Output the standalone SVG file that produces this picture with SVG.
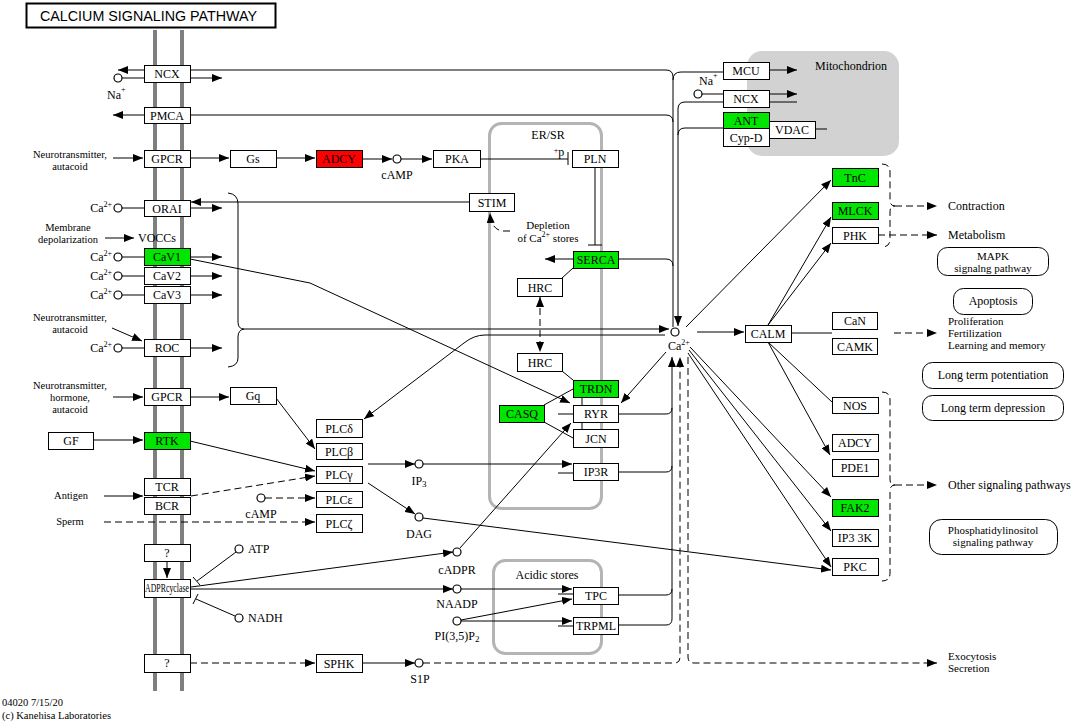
<svg xmlns="http://www.w3.org/2000/svg" width="1072" height="723" viewBox="0 0 1072 723">
<style>
text{font-family:"Liberation Serif","Times New Roman",serif;font-size:12px;fill:#000}
.n rect{fill:#fff;stroke:#000;stroke-width:1}
.n text{text-anchor:middle}
.n.g rect{fill:#00e600}
.n.r rect{fill:#ff0000}
.e{fill:none;stroke:#000;stroke-width:1}
.d{stroke-dasharray:7,4}
.c{fill:#fff;stroke:#000;stroke-width:1.2}
.s{font-size:10.5px}
.k{font-size:11px}
.m{text-anchor:middle}
.p{fill:#fff;stroke:#000;stroke-width:1}
.sup{font-size:8px}
</style>
<defs>
<marker id="a" viewBox="0 0 10 8" refX="10" refY="4" markerWidth="10" markerHeight="8" markerUnits="userSpaceOnUse" orient="auto-start-reverse"><path d="M0,0L10,4L0,8z" fill="#000"/></marker>
</defs>
<rect width="1072" height="723" fill="#fff"/>
<g id="compartments">
<rect x="747" y="51" width="152" height="105" rx="15" fill="#d2d2d2"/>
<text x="851" y="70" class="m">Mitochondrion</text>
<rect x="489.5" y="123.5" width="112" height="385" rx="12" fill="none" stroke="#b4b4b4" stroke-width="3"/>
<text x="548" y="139" class="m">ER/SR</text>
<rect x="493.5" y="560.5" width="108" height="93" rx="12" fill="none" stroke="#b4b4b4" stroke-width="3"/>
<text x="547" y="579" class="m">Acidic stores</text>
<line x1="155" y1="30" x2="155" y2="691" stroke="#7f7f7f" stroke-width="4"/>
<line x1="182" y1="30" x2="182" y2="691" stroke="#7f7f7f" stroke-width="4"/>
</g>
<g id="title"><rect x="26.5" y="3.5" width="249" height="24" fill="#fff" stroke="#000" stroke-width="2"/><text x="40" y="21" style="font-family:'Liberation Sans',Arial,sans-serif;font-size:14px" textLength="217" lengthAdjust="spacingAndGlyphs">CALCIUM SIGNALING PATHWAY</text></g>
<g id="edges">
<path class="e" d="M144,70H118" marker-end="url(#a)"/>
<path class="e" d="M190,70H666Q673,70 673,77V327"/>
<path class="e" d="M673,80Q673,72 681,72H723"/>
<path class="e" d="M122,78H144"/>
<path class="e" d="M190,78H222" marker-end="url(#a)"/>
<path class="e" d="M144,115H113" marker-end="url(#a)"/>
<path class="e" d="M190,115H666Q673,115 673,122"/>
<path class="e" d="M618,259H666Q673,259 673,266"/>
<path class="e" d="M769,70H797" marker-end="url(#a)"/>
<path class="e" d="M702,94H723"/>
<path class="e" d="M769,94H797" marker-end="url(#a)"/>
<path class="e" d="M769,102H797"/>
<path class="e" d="M723,102H685Q678,102 678,109V326" marker-end="url(#a)"/>
<path class="e" d="M723,128H685Q678,128 678,135"/>
<path class="e" d="M815,129H827"/>
<path class="e" d="M113,158H143" marker-end="url(#a)"/>
<path class="e" d="M190,158H229" marker-end="url(#a)"/>
<path class="e" d="M276,158H315" marker-end="url(#a)"/>
<path class="e" d="M362,159H392" marker-end="url(#a)"/>
<path class="e" d="M401,159H432" marker-end="url(#a)"/>
<path class="e" d="M480,159H568M568,152V165"/>
<path class="e" d="M595,167V245M588,245H602"/>
<path class="e" d="M469,202H191" marker-end="url(#a)"/>
<path class="e" d="M122,208H144"/>
<path class="e" d="M190,208H222" marker-end="url(#a)"/>
<path class="e d" d="M510,231H502Q491,229 490,213" marker-end="url(#a)"/>
<path class="e" d="M105,238H134" marker-end="url(#a)"/>
<path class="e" d="M573,259H545" marker-end="url(#a)"/>
<path class="e" d="M573,268L562,278"/>
<path class="e d" d="M540,297V352" marker-start="url(#a)" marker-end="url(#a)"/>
<path class="e" d="M562,371L573,380"/>
<path class="e" d="M582,397V405M582,422V429"/>
<path class="e" d="M544,405L573,389M544,422L573,438"/>
<path class="e" d="M558,414H573M558,473H573M558,594H573M558,626H573"/>
<path class="e" d="M122,257H144M122,276H144M122,295H144M122,348H144"/>
<path class="e" d="M190,257H222" marker-end="url(#a)"/>
<path class="e" d="M190,276H222" marker-end="url(#a)"/>
<path class="e" d="M190,295H222" marker-end="url(#a)"/>
<path class="e" d="M190,348H222" marker-end="url(#a)"/>
<path class="e" d="M190,259L310,283L570,403" marker-end="url(#a)"/>
<path class="e" d="M228,193Q238,194 238,204V322Q238,329 244,329"/>
<path class="e" d="M244,329Q238,330 238,337V358Q238,366 228,367"/>
<path class="e" d="M244,329H669" marker-end="url(#a)"/>
<path class="e" d="M665,335H485Q474,335 464,343L364,419" marker-end="url(#a)"/>
<path class="e" d="M112,328L142,341" marker-end="url(#a)"/>
<path class="e" d="M113,397H143" marker-end="url(#a)"/>
<path class="e" d="M190,397H229" marker-end="url(#a)"/>
<path class="e" d="M276,398L315,449" marker-end="url(#a)"/>
<path class="e" d="M93,440H143" marker-end="url(#a)"/>
<path class="e" d="M190,441L315,471" marker-end="url(#a)"/>
<path class="e" d="M104,496H143" marker-end="url(#a)"/>
<path class="e d" d="M191,496L315,476" marker-end="url(#a)"/>
<path class="e d" d="M265,498H315" marker-end="url(#a)"/>
<path class="e d" d="M104,522H315" marker-end="url(#a)"/>
<path class="e" d="M368,464H415" marker-end="url(#a)"/>
<path class="e" d="M423,464H572" marker-end="url(#a)"/>
<path class="e" d="M368,483L415,514" marker-end="url(#a)"/>
<path class="e" d="M423,518L831,570" marker-end="url(#a)"/>
<path class="e" d="M167,561V578" marker-end="url(#a)"/>
<path class="e" d="M236,552L197,581M193,577L200,585"/>
<path class="e" d="M235,616L196,599M193,604L198,594"/>
<path class="e" d="M191,587L453,552" marker-end="url(#a)"/>
<path class="e" d="M191,589H453" marker-end="url(#a)"/>
<path class="e" d="M460,548L571,423" marker-end="url(#a)"/>
<path class="e" d="M461,589H572" marker-end="url(#a)"/>
<path class="e" d="M461,620L572,599" marker-end="url(#a)"/>
<path class="e" d="M461,621H572" marker-end="url(#a)"/>
<path class="e d" d="M190,663H315" marker-end="url(#a)"/>
<path class="e" d="M362,663H415" marker-end="url(#a)"/>
<path class="e" d="M618,414H666Q672,414 672,408"/>
<path class="e" d="M618,472H666Q672,472 672,466"/>
<path class="e" d="M618,595H666Q672,595 672,589"/>
<path class="e" d="M618,625H666Q672,625 672,619V357" marker-end="url(#a)"/>
<path class="e d" d="M423,663H675Q680,663 680,657V357" marker-end="url(#a)"/>
<path class="e d" d="M688,357V657Q688,663 694,663H937" marker-end="url(#a)"/>
<path class="e" d="M666,352L621,403" marker-end="url(#a)"/>
<path class="e" d="M697,332H744" marker-end="url(#a)"/>
<path class="e" d="M791,333H832"/>
<path class="e d" d="M894,333H937" marker-end="url(#a)"/>
<path class="e" d="M686,327L831,180" marker-end="url(#a)"/>
<path class="e" d="M768,325L831,217" marker-end="url(#a)"/>
<path class="e" d="M768,325L831,243" marker-end="url(#a)"/>
<path class="e" d="M768,342L832,402"/>
<path class="e" d="M768,342L830,455" marker-end="url(#a)"/>
<path class="e" d="M690,347L831,497" marker-end="url(#a)"/>
<path class="e" d="M689,350L831,531" marker-end="url(#a)"/>
<path class="e" d="M688,353L831,567" marker-end="url(#a)"/>
<path class="e d" d="M882,164Q890,164 890,172V200Q890,206 895,206Q890,206 890,212V239Q890,247 882,247"/>
<path class="e d" d="M895,206H937" marker-end="url(#a)"/>
<path class="e d" d="M878,235H937" marker-end="url(#a)"/>
<path class="e d" d="M882,392Q890,392 890,400V479Q890,485 895,485Q890,485 890,491V573Q890,581 882,581"/>
<path class="e d" d="M895,485H937" marker-end="url(#a)"/>
</g>
<g id="compounds">
<circle class="c" cx="118" cy="78" r="4"/>
<circle class="c" cx="118" cy="208" r="4"/>
<circle class="c" cx="118" cy="257" r="4"/>
<circle class="c" cx="118" cy="276" r="4"/>
<circle class="c" cx="118" cy="295" r="4"/>
<circle class="c" cx="118" cy="348" r="4"/>
<circle class="c" cx="397" cy="159" r="4"/>
<circle class="c" cx="261" cy="498" r="4"/>
<circle class="c" cx="239" cy="549" r="4"/>
<circle class="c" cx="239" cy="618" r="4"/>
<circle class="c" cx="419" cy="464" r="4"/>
<circle class="c" cx="419" cy="517" r="4"/>
<circle class="c" cx="457" cy="552" r="4"/>
<circle class="c" cx="457" cy="589" r="4"/>
<circle class="c" cx="457" cy="621" r="4"/>
<circle class="c" cx="419" cy="663" r="4"/>
<circle class="c" cx="675" cy="332" r="4"/>
<circle class="c" cx="698" cy="94" r="4"/>
</g>
<g id="labels">
<text x="107" y="99">Na<tspan class="sup" dy="-7">+</tspan></text>
<text x="699" y="85">Na<tspan class="sup" dy="-7">+</tspan></text>
<text x="70" y="158" class="s m">Neurotransmitter,</text>
<text x="70" y="170" class="s m">autacoid</text>
<text x="112" y="212" style="text-anchor:end">Ca<tspan class="sup" dy="-5">2+</tspan></text>
<text x="68" y="231" class="s m">Membrane</text>
<text x="68" y="243" class="s m">depolarization</text>
<text x="138" y="242">VOCCs</text>
<text x="112" y="261" style="text-anchor:end">Ca<tspan class="sup" dy="-5">2+</tspan></text>
<text x="112" y="280" style="text-anchor:end">Ca<tspan class="sup" dy="-5">2+</tspan></text>
<text x="112" y="299" style="text-anchor:end">Ca<tspan class="sup" dy="-5">2+</tspan></text>
<text x="70" y="321" class="s m">Neurotransmitter,</text>
<text x="70" y="333" class="s m">autacoid</text>
<text x="112" y="352" style="text-anchor:end">Ca<tspan class="sup" dy="-5">2+</tspan></text>
<text x="70" y="389" class="s m">Neurotransmitter,</text>
<text x="70" y="401" class="s m">hormone,</text>
<text x="70" y="413" class="s m">autacoid</text>
<text x="71" y="499" class="s m">Antigen</text>
<text x="70" y="525" class="s m">Sperm</text>
<text x="248" y="553">ATP</text>
<text x="248" y="622">NADH</text>
<text x="397" y="179" class="m">cAMP</text>
<text x="261" y="518" class="m">cAMP</text>
<text x="419" y="485" class="m">IP<tspan font-size="9" dy="2">3</tspan></text>
<text x="419" y="538" class="m">DAG</text>
<text x="457" y="574" class="m">cADPR</text>
<text x="457" y="608" class="m">NAADP</text>
<text x="457" y="640" class="m">PI(3,5)P<tspan font-size="9" dy="2">2</tspan></text>
<text x="420" y="683" class="m">S1P</text>
<text x="559" y="156" class="m"><tspan class="sup" dy="-3">+</tspan><tspan dy="3">p</tspan></text>
<text x="548" y="229" class="k m">Depletion</text>
<text x="548" y="242" class="k m">of Ca<tspan class="sup" dy="-5">2+</tspan><tspan dy="5"> stores</tspan></text>
<text x="668" y="350">Ca<tspan class="sup" dy="-5">2+</tspan></text>
<text x="948" y="210">Contraction</text>
<text x="948" y="239">Metabolism</text>
<text x="948" y="325" class="k">Proliferation</text>
<text x="948" y="337" class="k">Fertilization</text>
<text x="948" y="349" class="k">Learning and memory</text>
<text x="948" y="489">Other signaling pathways</text>
<text x="948" y="660" class="k">Exocytosis</text>
<text x="948" y="672" class="k">Secretion</text>
<text x="2" y="706" class="s">04020 7/15/20</text>
<text x="2" y="719" class="s">(c) Kanehisa Laboratories</text>
</g>
<g id="pathways">
<g id="pw-mapk"><rect class="p" x="937.5" y="247.5" width="111" height="28" rx="10"/><text x="993" y="260" class="k m">MAPK</text><text x="993" y="272" class="k m">signalng pathway</text></g>
<g id="pw-apoptosis"><rect class="p" x="953.5" y="288.5" width="79" height="26" rx="10"/><text x="993" y="305" class="m">Apoptosis</text></g>
<g id="pw-ltp"><rect class="p" x="922.5" y="362.5" width="141" height="26" rx="10"/><text x="993" y="379" class="m">Long term potentiation</text></g>
<g id="pw-ltd"><rect class="p" x="922.5" y="395.5" width="141" height="25" rx="10"/><text x="993" y="412" class="m">Long term depression</text></g>
<g id="pw-pi"><rect class="p" x="929.5" y="519.5" width="128" height="35" rx="12"/><text x="993" y="534" class="k m">Phosphatidylinositol</text><text x="993" y="546" class="k m">signaling pathway</text></g>
</g>
<g id="n-ncx1" class="n"><rect x="144.5" y="65.5" width="46" height="17"/><text x="167" y="78">NCX</text></g>
<g id="n-pmca" class="n"><rect x="144.5" y="107.5" width="46" height="16"/><text x="167" y="120">PMCA</text></g>
<g id="n-gpcr1" class="n"><rect x="144.5" y="150.5" width="46" height="17"/><text x="167" y="163">GPCR</text></g>
<g id="n-orai" class="n"><rect x="144.5" y="200.5" width="46" height="16"/><text x="167" y="213">ORAI</text></g>
<g id="n-cav1" class="n g"><rect x="144.5" y="248.5" width="46" height="17"/><text x="167" y="261">CaV1</text></g>
<g id="n-cav2" class="n"><rect x="144.5" y="267.5" width="46" height="17"/><text x="167" y="280">CaV2</text></g>
<g id="n-cav3" class="n"><rect x="144.5" y="286.5" width="46" height="17"/><text x="167" y="299">CaV3</text></g>
<g id="n-roc" class="n"><rect x="144.5" y="339.5" width="46" height="17"/><text x="167" y="352">ROC</text></g>
<g id="n-gpcr2" class="n"><rect x="144.5" y="388.5" width="46" height="17"/><text x="167" y="401">GPCR</text></g>
<g id="n-rtk" class="n g"><rect x="144.5" y="432.5" width="46" height="17"/><text x="167" y="445">RTK</text></g>
<g id="n-tcr" class="n"><rect x="144.5" y="478.5" width="46" height="17"/><text x="167" y="491">TCR</text></g>
<g id="n-bcr" class="n"><rect x="144.5" y="497.5" width="46" height="17"/><text x="167" y="510">BCR</text></g>
<g id="n-q1" class="n"><rect x="144.5" y="544.5" width="46" height="17"/><text x="167" y="557">?</text></g>
<g id="n-adpr" class="n"><rect x="144.5" y="579.5" width="46" height="18"/><text x="167" y="592" font-size="10" textLength="44" lengthAdjust="spacingAndGlyphs">ADPRcyclase</text></g>
<g id="n-q2" class="n"><rect x="144.5" y="654.5" width="46" height="18"/><text x="167" y="667">?</text></g>
<g id="n-gs" class="n"><rect x="230.5" y="150.5" width="46" height="17"/><text x="253" y="163">Gs</text></g>
<g id="n-adcy1" class="n r"><rect x="316.5" y="150.5" width="46" height="17"/><text x="339" y="163">ADCY</text></g>
<g id="n-pka" class="n"><rect x="433.5" y="150.5" width="47" height="17"/><text x="457" y="163">PKA</text></g>
<g id="n-pln" class="n"><rect x="572.5" y="150.5" width="46" height="17"/><text x="595" y="163">PLN</text></g>
<g id="n-stim" class="n"><rect x="469.5" y="193.5" width="45" height="18"/><text x="492" y="207">STIM</text></g>
<g id="n-serca" class="n g"><rect x="573.5" y="251.5" width="45" height="17"/><text x="596" y="264">SERCA</text></g>
<g id="n-hrc1" class="n"><rect x="517.5" y="278.5" width="45" height="18"/><text x="540" y="292">HRC</text></g>
<g id="n-hrc2" class="n"><rect x="517.5" y="353.5" width="45" height="18"/><text x="540" y="367">HRC</text></g>
<g id="n-trdn" class="n g"><rect x="573.5" y="380.5" width="45" height="17"/><text x="596" y="393">TRDN</text></g>
<g id="n-ryr" class="n"><rect x="573.5" y="405.5" width="45" height="17"/><text x="596" y="418">RYR</text></g>
<g id="n-jcn" class="n"><rect x="573.5" y="429.5" width="45" height="18"/><text x="596" y="443">JCN</text></g>
<g id="n-casq" class="n g"><rect x="499.5" y="405.5" width="45" height="17"/><text x="522" y="418">CASQ</text></g>
<g id="n-ip3r" class="n"><rect x="573.5" y="463.5" width="45" height="17"/><text x="596" y="476">IP3R</text></g>
<g id="n-tpc" class="n"><rect x="573.5" y="587.5" width="45" height="17"/><text x="596" y="600">TPC</text></g>
<g id="n-trpml" class="n"><rect x="573.5" y="617.5" width="45" height="17"/><text x="596" y="630">TRPML</text></g>
<g id="n-gq" class="n"><rect x="230.5" y="387.5" width="46" height="17"/><text x="253" y="400">Gq</text></g>
<g id="n-gf" class="n"><rect x="48.5" y="432.5" width="45" height="17"/><text x="71" y="445">GF</text></g>
<g id="n-plcd" class="n"><rect x="316.5" y="419.5" width="46" height="18"/><text x="339" y="433">PLCδ</text></g>
<g id="n-plcb" class="n"><rect x="316.5" y="443.5" width="46" height="16"/><text x="339" y="456">PLCβ</text></g>
<g id="n-plcg" class="n"><rect x="316.5" y="466.5" width="46" height="17"/><text x="339" y="479">PLCγ</text></g>
<g id="n-plce" class="n"><rect x="316.5" y="491.5" width="46" height="16"/><text x="339" y="504">PLCε</text></g>
<g id="n-plcz" class="n"><rect x="316.5" y="514.5" width="46" height="18"/><text x="339" y="528">PLCζ</text></g>
<g id="n-sphk" class="n"><rect x="316.5" y="654.5" width="46" height="18"/><text x="339" y="668">SPHK</text></g>
<g id="n-mcu" class="n"><rect x="723.5" y="62.5" width="46" height="17"/><text x="746" y="75">MCU</text></g>
<g id="n-ncx2" class="n"><rect x="723.5" y="90.5" width="46" height="17"/><text x="746" y="103">NCX</text></g>
<g id="n-ant" class="n g"><rect x="723.5" y="112.5" width="46" height="16"/><text x="746" y="125">ANT</text></g>
<g id="n-cypd" class="n"><rect x="723.5" y="128.5" width="46" height="18"/><text x="746" y="142">Cyp-D</text></g>
<g id="n-vdac" class="n"><rect x="769.5" y="121.5" width="46" height="17"/><text x="792" y="134">VDAC</text></g>
<g id="n-tnc" class="n g"><rect x="832.5" y="168.5" width="46" height="18"/><text x="855" y="182">TnC</text></g>
<g id="n-mlck" class="n g"><rect x="832.5" y="202.5" width="46" height="17"/><text x="855" y="215">MLCK</text></g>
<g id="n-phk" class="n"><rect x="832.5" y="227.5" width="46" height="16"/><text x="855" y="240">PHK</text></g>
<g id="n-calm" class="n"><rect x="745.5" y="325.5" width="46" height="17"/><text x="768" y="338">CALM</text></g>
<g id="n-can" class="n"><rect x="832.5" y="312.5" width="45" height="17"/><text x="855" y="325">CaN</text></g>
<g id="n-camk" class="n"><rect x="832.5" y="338.5" width="45" height="16"/><text x="855" y="351">CAMK</text></g>
<g id="n-nos" class="n"><rect x="832.5" y="397.5" width="46" height="16"/><text x="855" y="410">NOS</text></g>
<g id="n-adcy2" class="n"><rect x="832.5" y="434.5" width="46" height="17"/><text x="855" y="447">ADCY</text></g>
<g id="n-pde1" class="n"><rect x="832.5" y="459.5" width="46" height="17"/><text x="855" y="472">PDE1</text></g>
<g id="n-fak2" class="n g"><rect x="832.5" y="499.5" width="46" height="17"/><text x="855" y="512">FAK2</text></g>
<g id="n-ip33k" class="n"><rect x="832.5" y="529.5" width="46" height="17"/><text x="855" y="542">IP3 3K</text></g>
<g id="n-pkc" class="n"><rect x="832.5" y="558.5" width="46" height="17"/><text x="855" y="571">PKC</text></g>
</svg>
